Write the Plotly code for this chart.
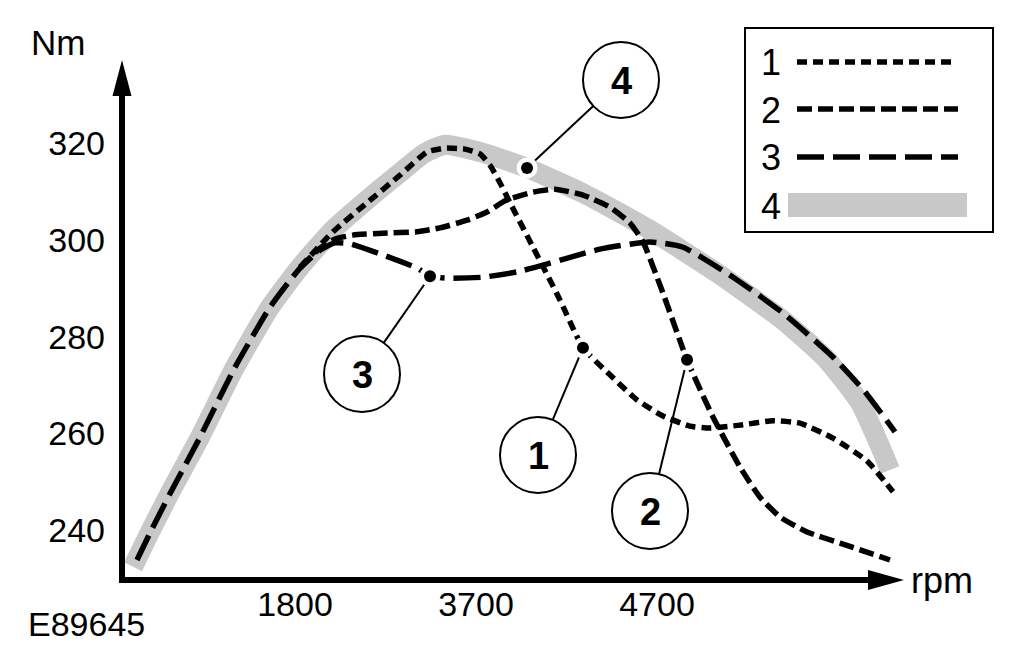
import math
import plotly.graph_objects as go

# ---------------- data ----------------
# x positions: the drawing's rpm axis is not linear; the three labelled
# speeds sit at equal spacing, so positions 1, 2, 3 = 1800, 3700, 4700 rpm.
rpm_tick_pos = [1, 2, 3]
rpm_tick_text = ["1800", "3700", "4700"]
nm_tick_vals = [240, 260, 280, 300, 320]

curve1_x = [0.127, 0.199, 0.309, 0.475, 0.669, 0.862, 1.028, 1.210, 1.398, 1.580, 1.729,
            1.829, 1.939, 2.022, 2.077, 2.133, 2.188, 2.315, 2.464, 2.591, 2.740, 2.890,
            3.033, 3.182, 3.293, 3.459, 3.641, 3.790, 3.972, 4.160, 4.304]
curve1_y = [233.8, 239.4, 247.5, 259.2, 273.7, 286.1, 294.4, 301.7, 307.7, 313.4, 318.2,
            319.0, 318.8, 317.8, 315.5, 311.8, 307.7, 298.5, 287.6, 277.7, 272.1, 266.9,
            263.6, 261.5, 261.1, 261.7, 262.6, 262.1, 259.0, 254.3, 247.9]

curve2_x = [0.127, 0.199, 0.309, 0.475, 0.669, 0.862, 1.028, 1.138, 1.221, 1.320, 1.486,
            1.674, 1.801, 1.950, 2.061, 2.171, 2.315, 2.436, 2.591, 2.740, 2.851, 2.923,
            3.033, 3.166, 3.309, 3.459, 3.569, 3.680, 3.829, 4.011, 4.287]
curve2_y = [233.8, 239.4, 247.5, 259.2, 273.7, 286.1, 294.2, 298.3, 300.2, 301.0, 301.4,
            301.7, 302.5, 304.1, 305.8, 308.3, 309.9, 310.5, 309.3, 306.8, 303.5, 299.6,
            289.0, 275.2, 263.4, 253.0, 246.8, 242.7, 239.6, 237.3, 233.8]

curve3_x = [0.127, 0.199, 0.309, 0.475, 0.669, 0.862, 1.028, 1.138, 1.221, 1.304, 1.486,
            1.674, 1.746, 1.856, 2.039, 2.227, 2.409, 2.685, 2.961, 3.144, 3.420, 3.696,
            3.972, 4.149, 4.315]
curve3_y = [233.8, 239.4, 247.5, 259.2, 273.7, 286.1, 294.2, 297.9, 299.4, 299.2, 296.9,
            294.2, 292.5, 292.1, 292.3, 293.4, 295.2, 298.1, 299.6, 298.5, 292.3, 284.9,
            275.8, 268.6, 260.3]

curve4_x = [0.105, 0.199, 0.309, 0.475, 0.669, 0.862, 1.028, 1.210, 1.398, 1.580, 1.718,
            1.829, 2.039, 2.282, 2.591, 2.961, 3.331, 3.696, 3.939, 4.122, 4.249, 4.287]
curve4_y = [232.4, 239.6, 247.7, 259.2, 273.7, 286.1, 294.4, 302.1, 308.3, 313.9, 318.0,
            319.7, 318.0, 314.9, 309.7, 302.1, 293.2, 283.4, 275.2, 266.3, 255.9, 252.4]

series_labels = ["1", "2", "3", "4"]
# which point of each curve the numbered callout points to
callout_point_index = [19, 23, 12, 13]
# curves 1 and 2 run under curve 3 at low speed; drawn from the branch point
shared_until_index = 6

# ---------------- layout geometry (reference-image pixels) ----------------
OFF = 8                      # page body margin of the html page
W, H = 1021 - 2 * OFF, 665 - 2 * OFF
PL, PR, PT, PB = 122, 1000, 8, 580       # plot area in reference pixels
ML, MR, MT, MB = PL - OFF, (W + OFF) - PR, PT - OFF, (H + OFF) - PB
PW, PH = PR - PL, PB - PT
PX_PER_POS, POS1_PX = 181.0, 295.0
PX_PER_NM, NM320_PX = 4.834, 143.3
XR = [1 + (PL - POS1_PX) / PX_PER_POS, 1 + (PR - POS1_PX) / PX_PER_POS]
YR = [320 - (PB - NM320_PX) / PX_PER_NM, 320 + (NM320_PX - PT) / PX_PER_NM]

def px_x(p):
    return XR[0] + (p - PL) / PW * (XR[1] - XR[0])

def px_y(q):
    return YR[1] - (q - PT) / PH * (YR[1] - YR[0])

def x_px(x):
    return PL + (x - XR[0]) / (XR[1] - XR[0]) * PW

def y_px(y):
    return PT + (YR[1] - y) / (YR[1] - YR[0]) * PH

def pap_x(p):
    return (p - PL) / PW

def pap_y(q):
    return (PB - q) / PH

FONT = "Liberation Sans, Arial, sans-serif"
GREY = "#c8c8c8"
DASHES = ["10px,6px", "15px,6px", "27px,9px", None]
LW = 5.5

xs = [curve1_x, curve2_x, curve3_x, curve4_x]
ys = [curve1_y, curve2_y, curve3_y, curve4_y]

fig = go.Figure()

fig.add_trace(go.Scatter(x=curve4_x, y=curve4_y, mode="lines",
                         line=dict(color=GREY, width=20, shape="spline", smoothing=0.5),
                         showlegend=False, hoverinfo="skip"))
for i in (2, 1, 0):
    start = 0 if i == 2 else shared_until_index
    fig.add_trace(go.Scatter(x=xs[i][start:], y=ys[i][start:], mode="lines",
                             line=dict(color="black", width=LW, dash=DASHES[i],
                                       shape="spline", smoothing=0.5),
                             showlegend=False, hoverinfo="skip"))

dot_x = [xs[i][callout_point_index[i]] for i in range(4)]
dot_y = [ys[i][callout_point_index[i]] for i in range(4)]
fig.add_trace(go.Scatter(x=dot_x, y=dot_y, mode="markers",
                         marker=dict(color="white", size=21, line=dict(width=0)),
                         showlegend=False, hoverinfo="skip"))
fig.add_trace(go.Scatter(x=dot_x, y=dot_y, mode="markers",
                         marker=dict(color="black", size=12, line=dict(width=0)),
                         showlegend=False, hoverinfo="skip"))

shapes = []
annotations = []

def ppath(pts):
    return "M" + " L".join(f"{pap_x(a):.5f},{pap_y(b):.5f}" for a, b in pts) + " Z"

# axes with arrow heads
shapes.append(dict(type="line", xref="paper", yref="paper",
                   x0=pap_x(122), y0=pap_y(583), x1=pap_x(122), y1=pap_y(90),
                   line=dict(color="black", width=6)))
shapes.append(dict(type="line", xref="paper", yref="paper",
                   x0=pap_x(119), y0=pap_y(580), x1=pap_x(872), y1=pap_y(580),
                   line=dict(color="black", width=6)))
shapes.append(dict(type="path", xref="paper", yref="paper",
                   path=ppath([(122, 60), (112.5, 96), (131.5, 96)]),
                   fillcolor="black", line=dict(width=0)))
shapes.append(dict(type="path", xref="paper", yref="paper",
                   path=ppath([(904, 580), (868, 570), (868, 590)]),
                   fillcolor="black", line=dict(width=0)))

# callouts
circle_centres = [(538, 455), (650, 511), (362, 374), (621, 80)]
R = 38
for i, (cx, cy) in enumerate(circle_centres):
    dx, dy = x_px(dot_x[i]), y_px(dot_y[i])
    vx, vy = dx - cx, dy - cy
    L = math.hypot(vx, vy)
    ex, ey = cx + R * vx / L, cy + R * vy / L
    shapes.append(dict(type="line", xref="x", yref="y", layer="below",
                       x0=px_x(ex), y0=px_y(ey), x1=dot_x[i], y1=dot_y[i],
                       line=dict(color="black", width=2)))
    shapes.append(dict(type="circle", xref="x", yref="y", layer="above",
                       x0=px_x(cx - R), x1=px_x(cx + R), y0=px_y(cy + R), y1=px_y(cy - R),
                       fillcolor="white", line=dict(color="black", width=2)))
    annotations.append(dict(x=px_x(cx), y=px_y(cy + 1), xref="x", yref="y",
                            text=f"<b>{series_labels[i]}</b>", showarrow=False,
                            font=dict(family=FONT, size=38, color="black"),
                            xanchor="center", yanchor="middle"))

# legend box
shapes.append(dict(type="rect", xref="paper", yref="paper", layer="above",
                   x0=pap_x(745), x1=pap_x(993), y0=pap_y(232), y1=pap_y(28),
                   fillcolor="white", line=dict(color="black", width=2)))
legend_rows = [62, 109, 157, 205]
legend_ends = [952, 958, 958]
for i in range(3):
    shapes.append(dict(type="line", xref="paper", yref="paper", layer="above",
                       x0=pap_x(797), x1=pap_x(legend_ends[i]),
                       y0=pap_y(legend_rows[i]), y1=pap_y(legend_rows[i]),
                       line=dict(color="black", width=LW, dash=DASHES[i])))
shapes.append(dict(type="rect", xref="paper", yref="paper", layer="above",
                   x0=pap_x(788), x1=pap_x(967), y0=pap_y(217), y1=pap_y(193),
                   fillcolor=GREY, line=dict(width=0)))
for i in range(4):
    annotations.append(dict(x=pap_x(771), y=pap_y(legend_rows[i] + 1), xref="paper", yref="paper",
                            text=series_labels[i], showarrow=False,
                            font=dict(family=FONT, size=36, color="black"),
                            xanchor="center", yanchor="middle"))

# axis titles and figure code
annotations.append(dict(x=pap_x(29), y=pap_y(42), xref="paper", yref="paper", text="Nm",
                        showarrow=False, xanchor="left", yanchor="middle",
                        font=dict(family=FONT, size=35, color="black")))
annotations.append(dict(x=pap_x(909), y=pap_y(580), xref="paper", yref="paper", text="rpm",
                        showarrow=False, xanchor="left", yanchor="middle",
                        font=dict(family=FONT, size=36, color="black")))
annotations.append(dict(x=pap_x(26), y=pap_y(624), xref="paper", yref="paper", text="E89645",
                        showarrow=False, xanchor="left", yanchor="middle",
                        font=dict(family=FONT, size=34, color="black")))

fig.update_layout(
    width=W, height=H,
    margin=dict(l=ML, r=MR, t=MT, b=MB, pad=0),
    paper_bgcolor="white", plot_bgcolor="rgba(0,0,0,0)",
    showlegend=False, hovermode=False,
    shapes=shapes, annotations=annotations,
    xaxis=dict(range=XR, tickvals=rpm_tick_pos, ticktext=rpm_tick_text,
               showgrid=False, zeroline=False, showline=False, ticks="",
               ticklabelstandoff=1, fixedrange=True,
               tickfont=dict(family=FONT, size=34, color="black")),
    yaxis=dict(range=YR, tickvals=nm_tick_vals, showgrid=False, zeroline=False,
               showline=False, ticks="", ticklabelstandoff=16, fixedrange=True,
               tickfont=dict(family=FONT, size=34, color="black")),
)

fig.write_html("out.html", config={"displayModeBar": False})
